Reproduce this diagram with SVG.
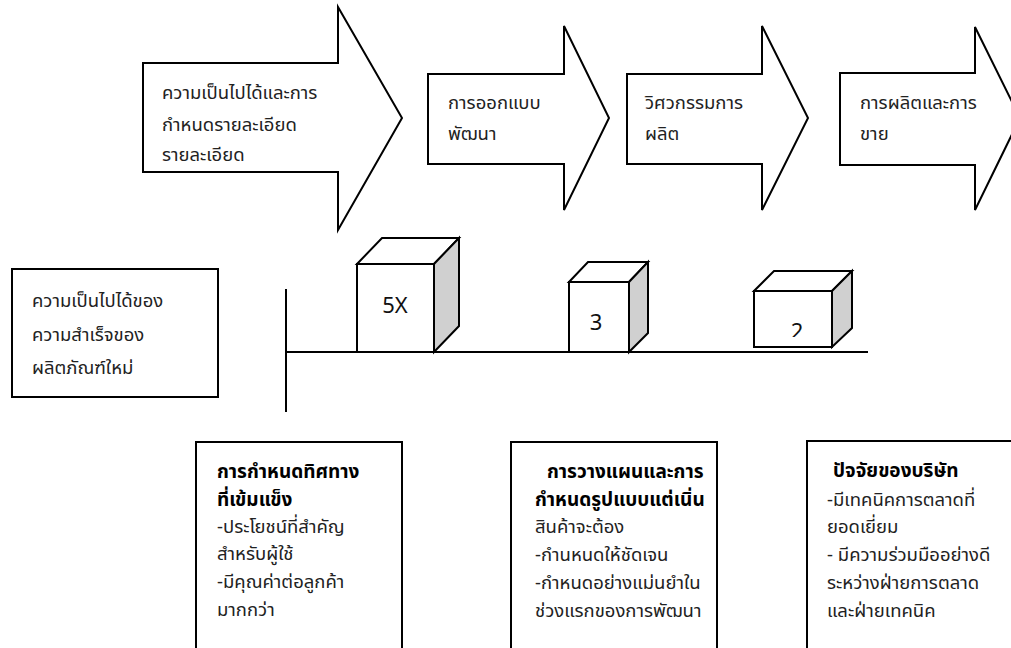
<svg xmlns="http://www.w3.org/2000/svg" width="1011" height="648" viewBox="0 0 1011 648">
<style>
.shape{fill:#fff;stroke:#000;stroke-width:2;stroke-linejoin:miter}
.side{fill:#d0d0d0;stroke:#000;stroke-width:2}
.line{stroke:#000;stroke-width:2;fill:none}
.t{font-family:Tahoma,"Noto Sans Thai","Noto Sans Thai UI","Loma","Garuda","Noto Sans","DejaVu Sans",sans-serif;font-size:18.5px;fill:#222}
.b{font-weight:bold;fill:#000;font-size:19px}
.num{font-family:"Noto Sans","DejaVu Sans",sans-serif;font-size:22px;fill:#111;text-anchor:middle}
</style>
<defs>
<clipPath id="clip2"><rect x="751" y="291" width="77" height="46"/></clipPath>
</defs>
<rect width="1011" height="648" fill="#fff"/>

<g id="arrow1">
<polygon class="shape" points="143,63 338,63 338,7 402,118 338,230 338,172 143,172"/>
<text class="t" x="162" y="99">ความเป็นไปได้และการ</text>
<text class="t" x="162" y="131">กำหนดรายละเอียด</text>
<text class="t" x="162" y="161">รายละเอียด</text>
</g>
<g id="arrow2">
<polygon class="shape" points="428,74 564,74 564,26 609,118 564,210 564,164 428,164"/>
<text class="t" x="448" y="109">การออกแบบ</text>
<text class="t" x="448" y="140">พัฒนา</text>
</g>
<g id="arrow3">
<polygon class="shape" points="627,74 762,74 762,26 808,118 762,210 762,164 627,164"/>
<text class="t" x="645" y="109">วิศวกรรมการ</text>
<text class="t" x="645" y="140">ผลิต</text>
</g>
<g id="arrow4">
<polygon class="shape" points="840,73 975,73 975,27 1020,118 975,210 975,165 840,165"/>
<text class="t" x="860" y="109">การผลิตและการ</text>
<text class="t" x="860" y="140">ขาย</text>
</g>

<g id="success-box">
<rect class="shape" x="12" y="269" width="206" height="128"/>
<text class="t" x="32" y="307">ความเป็นไปได้ของ</text>
<text class="t" x="32" y="341">ความสำเร็จของ</text>
<text class="t" x="32" y="374">ผลิตภัณฑ์ใหม่</text>
</g>

<g id="connectors">
<line class="line" x1="286" y1="289" x2="286" y2="412"/>
<line class="line" x1="286" y1="352" x2="868" y2="352"/>
</g>

<g id="cube-5x">
<polygon class="shape" points="357,264 382,238 459,238 434,264"/>
<polygon class="side" points="434,264 459,238 459,326 434,352"/>
<rect class="shape" x="357" y="264" width="77" height="88"/>
<text class="num" x="395" y="313">5X</text>
</g>
<g id="cube-3">
<polygon class="shape" points="569,282 588,262 648,262 629,282"/>
<polygon class="side" points="629,282 648,262 648,333 629,352"/>
<rect class="shape" x="569" y="282" width="60" height="70"/>
<text class="num" x="596" y="330">3</text>
</g>
<g id="cube-2">
<polygon class="shape" points="754,291 774,271 852,271 832,291"/>
<polygon class="side" points="832,291 852,271 852,328 832,347"/>
<rect class="shape" x="754" y="291" width="78" height="56"/>
<text class="num" x="797" y="339" clip-path="url(#clip2)">2</text>
</g>

<g id="factor1">
<polyline class="shape" points="196,648 196,442 402,442 402,648"/>
<text class="t b" x="217" y="478">การกำหนดทิศทาง</text>
<text class="t b" x="217" y="506">ที่เข้มแข็ง</text>
<text class="t" x="217" y="533">-ประโยชน์ที่สำคัญ</text>
<text class="t" x="217" y="560">สำหรับผู้ใช้</text>
<text class="t" x="217" y="588">-มีคุณค่าต่อลูกค้า</text>
<text class="t" x="217" y="616">มากกว่า</text>
</g>
<g id="factor2">
<polyline class="shape" points="511,648 511,442 717,442 717,648"/>
<text class="t b" x="547" y="478">การวางแผนและการ</text>
<text class="t b" x="535" y="506">กำหนดรูปแบบแต่เนิ่น</text>
<text class="t" x="535" y="533">สินค้าจะต้อง</text>
<text class="t" x="535" y="561">-กำนหนดให้ชัดเจน</text>
<text class="t" x="535" y="589">-กำหนดอย่างแม่นยำใน</text>
<text class="t" x="535" y="617">ช่วงแรกของการพัฒนา</text>
</g>
<g id="factor3">
<polyline class="shape" points="807,648 807,441 1013,441"/>
<text class="t b" x="833" y="477">ปัจจัยของบริษัท</text>
<text class="t" x="827" y="506">-มีเทคนิคการตลาดที่</text>
<text class="t" x="827" y="533">ยอดเยี่ยม</text>
<text class="t" x="827" y="561">- มีความร่วมมืออย่างดี</text>
<text class="t" x="827" y="589">ระหว่างฝ่ายการตลาด</text>
<text class="t" x="827" y="617">และฝ่ายเทคนิค</text>
</g>
</svg>
